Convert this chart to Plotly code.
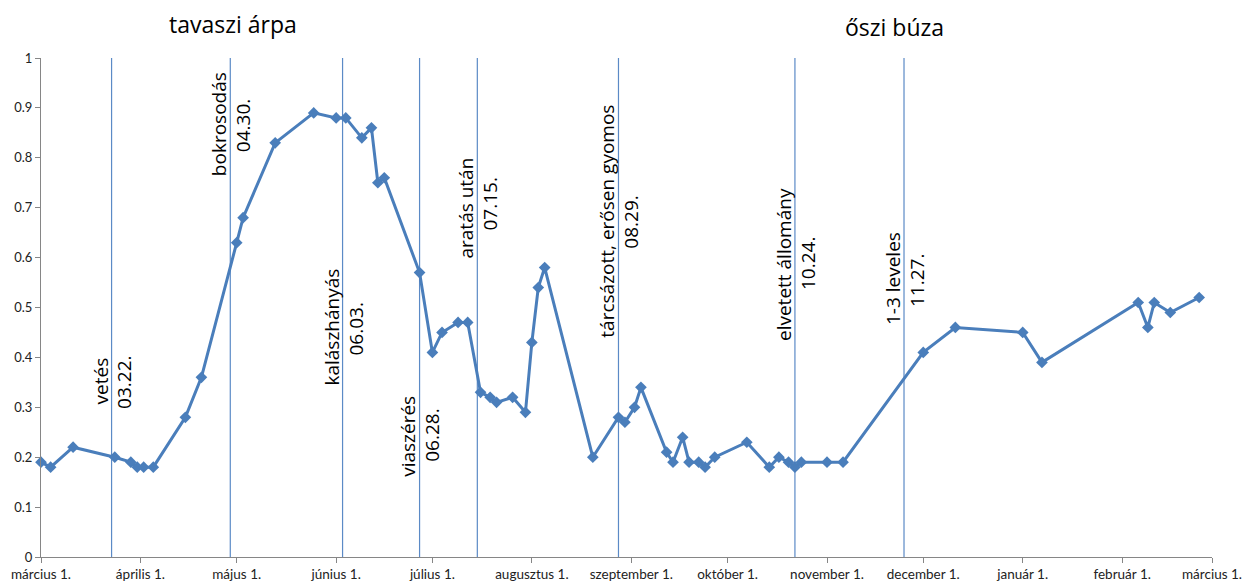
import plotly.graph_objects as go

# ---- data ----
dates = [
    "2010-03-01", "2010-03-04", "2010-03-11", "2010-03-24", "2010-03-29", "2010-03-31",
    "2010-04-02", "2010-04-05", "2010-04-15", "2010-04-20", "2010-05-01", "2010-05-03",
    "2010-05-13", "2010-05-25", "2010-06-01", "2010-06-04", "2010-06-09", "2010-06-12",
    "2010-06-14", "2010-06-16", "2010-06-27", "2010-07-01", "2010-07-04", "2010-07-09",
    "2010-07-12", "2010-07-16", "2010-07-19", "2010-07-21", "2010-07-26", "2010-07-30",
    "2010-08-01", "2010-08-03", "2010-08-05", "2010-08-20", "2010-08-28", "2010-08-30",
    "2010-09-02", "2010-09-04", "2010-09-12", "2010-09-14", "2010-09-17", "2010-09-19",
    "2010-09-22", "2010-09-24", "2010-09-27", "2010-10-07", "2010-10-14", "2010-10-17",
    "2010-10-20", "2010-10-22", "2010-10-24", "2010-11-01", "2010-11-06", "2010-12-01",
    "2010-12-11", "2011-01-01", "2011-01-07", "2011-02-06", "2011-02-09", "2011-02-11",
    "2011-02-16", "2011-02-25",
]
values = [
    0.19, 0.18, 0.22, 0.20, 0.19, 0.18,
    0.18, 0.18, 0.28, 0.36, 0.63, 0.68,
    0.83, 0.89, 0.88, 0.88, 0.84, 0.86,
    0.75, 0.76, 0.57, 0.41, 0.45, 0.47,
    0.47, 0.33, 0.32, 0.31, 0.32, 0.29,
    0.43, 0.54, 0.58, 0.20, 0.28, 0.27,
    0.30, 0.34, 0.21, 0.19, 0.24, 0.19,
    0.19, 0.18, 0.20, 0.23, 0.18, 0.20,
    0.19, 0.18, 0.19, 0.19, 0.19, 0.41,
    0.46, 0.45, 0.39, 0.51, 0.46, 0.51,
    0.49, 0.52,
]

# where the marker lines sit in the picture (drawn by hand in the original)
event_line_dates = ["2010-03-23", "2010-04-29", "2010-06-03", "2010-06-27",
                    "2010-07-15", "2010-08-28", "2010-10-22", "2010-11-25"]
event_names = ["vetés", "bokrosodás", "kalászhányás", "viaszérés",
               "aratás után", "tárcsázott, erősen gyomos", "elvetett állomány", "1-3 leveles"]
event_labels = ["03.22.", "04.30.", "06.03.", "06.28.", "07.15.", "08.29.", "10.24.", "11.27."]
event_name_y = [0.353, 0.868, 0.461, 0.242, 0.699, 0.673, 0.587, 0.557]
event_label_y = [0.350, 0.864, 0.457, 0.244, 0.707, 0.671, 0.589, 0.553]

tick_dates = ["2010-03-01", "2010-04-01", "2010-05-01", "2010-06-01", "2010-07-01",
              "2010-08-01", "2010-09-01", "2010-10-01", "2010-11-01", "2010-12-01",
              "2011-01-01", "2011-02-01", "2011-03-01"]
tick_labels = ["március 1.", "április 1.", "május 1.", "június 1.", "július 1.",
               "augusztus 1.", "szeptember 1.", "október 1.", "november 1.", "december 1.",
               "január 1.", "február 1.", "március 1."]

titles = ["tavaszi árpa", "őszi búza"]
title_x = [0.164, 0.729]
title_y = [1.068, 1.062]

BLUE = "#4A7EBB"
LINE_BLUE = "#5B8AC6"
TICK_FONT = "Lato"
TEXT_FONT = "Open Sans"

fig = go.Figure()
fig.add_trace(go.Scatter(
    x=dates, y=values, mode="lines+markers",
    line=dict(color=BLUE, width=3),
    marker=dict(symbol="diamond", size=9, color=BLUE),
    showlegend=False, cliponaxis=False,
))

for d, name, lab, ny, ly in zip(event_line_dates, event_names, event_labels, event_name_y, event_label_y):
    fig.add_shape(type="line", xref="x", yref="paper", x0=d, x1=d, y0=0, y1=1,
                  line=dict(color=LINE_BLUE, width=1.2), layer="below")
    fig.add_annotation(x=d, xref="x", y=ny, yref="paper", xshift=-11,
                       text=name, textangle=-90, showarrow=False,
                       xanchor="center", yanchor="middle",
                       font=dict(family=TEXT_FONT, size=19, color="#000000"))
    fig.add_annotation(x=d, xref="x", y=ly, yref="paper", xshift=13,
                       text=lab, textangle=-90, showarrow=False,
                       xanchor="center", yanchor="middle",
                       font=dict(family=TEXT_FONT, size=19, color="#000000"))

for t, tx, ty in zip(titles, title_x, title_y):
    fig.add_annotation(x=tx, y=ty, xref="paper", yref="paper", text=t, showarrow=False,
                       xanchor="center", yanchor="middle",
                       font=dict(family=TEXT_FONT, size=23, color="#000000"))

# the page body has an 8px margin, so the figure is sized to fit the window
fig.update_layout(
    width=1244, height=578,
    margin=dict(l=33, r=40, t=50, b=29, autoexpand=False),
    paper_bgcolor="white", plot_bgcolor="white",
    font=dict(family=TICK_FONT, size=13, color="#222222"),
    xaxis=dict(
        type="date", range=["2010-03-01", "2011-03-01"], automargin=False,
        tickmode="array", tickvals=tick_dates, ticktext=tick_labels,
        showgrid=False, zeroline=False, showline=True, linecolor="#868686", linewidth=1,
        ticks="outside", ticklen=5, tickcolor="#868686",
        tickfont=dict(family=TICK_FONT, size=13.5, color="#222222"),
    ),
    yaxis=dict(
        range=[0, 1], dtick=0.1, tick0=0, automargin=False,
        showgrid=False, zeroline=False, showline=True, linecolor="#868686", linewidth=1,
        ticks="outside", ticklen=5, tickcolor="#868686",
        tickfont=dict(family=TICK_FONT, size=13, color="#222222"),
    ),
)

fig.write_html("out.html")
